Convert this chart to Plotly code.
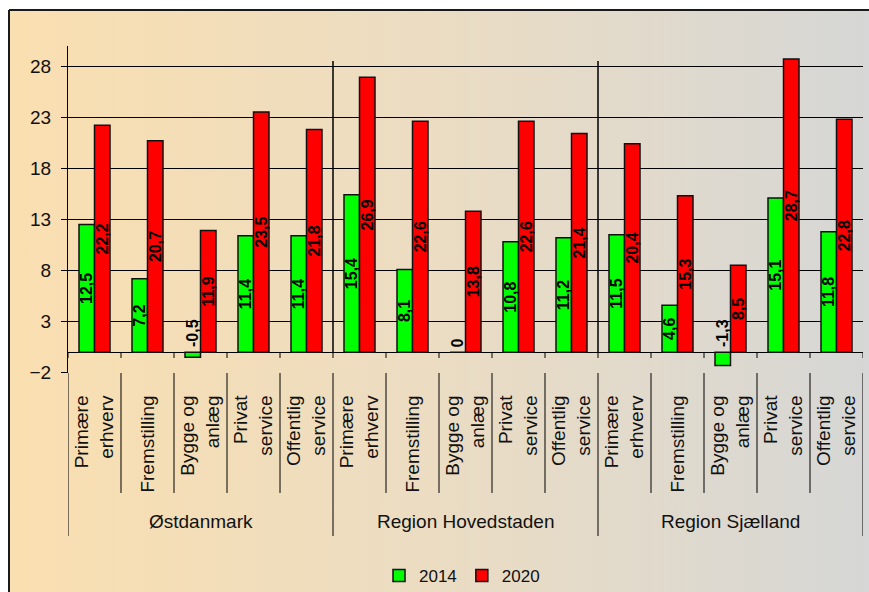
"""Growth by sector and region, 2014 vs 2020."""

import base64

import plotly.graph_objects as go

FONT = "Liberation Sans, Arial, sans-serif"
W, H = 869, 592

regions = ["Østdanmark", "Region Hovedstaden", "Region Sjælland"]
sectors = ["Primære<br>erhverv", "Fremstilling", "Bygge og<br>anlæg", "Privat<br>service", "Offentlig<br>service"]

vals_2014 = [12.5, 7.2, -0.5, 11.4, 11.4,
             15.4, 8.1, 0.0, 10.8, 11.2,
             11.5, 4.6, -1.3, 15.1, 11.8]
vals_2020 = [22.2, 20.7, 11.9, 23.5, 21.8,
             26.9, 22.6, 13.8, 22.6, 21.4,
             20.4, 15.3, 8.5, 28.7, 22.8]

y_ticks = [-2, 3, 8, 13, 18, 23, 28]

GREEN = "#00FF00"
RED = "#FF0000"
BARGAP = 0.415


def px_x(v):
    return v / W


def px_y(v):
    return 1 - v / H


def fmt(v):
    return f"{v:g}".replace(".", ",")


n = len(regions) * len(sectors)
xs = list(range(n))
ticktext = sectors * len(regions)
label_font = dict(family=FONT, size=16, color="black", weight="bold")

fig = go.Figure()

for name, vals, color in [("2014", vals_2014, GREEN), ("2020", vals_2020, RED)]:
    fig.add_trace(
        go.Bar(
            x=xs,
            y=vals,
            name=name,
            marker=dict(color=color, line=dict(color="#111111", width=1.5)),
            text=[fmt(v) if v >= 1 else "" for v in vals],
            textposition="inside",
            insidetextanchor="middle",
            textangle=-90,
            constraintext="none",
            textfont=label_font,
            cliponaxis=False,
        )
    )

# labels of the tiny 2014 bars sit above the zero line
offset = (1 - BARGAP) / 4
for i, v in enumerate(vals_2014):
    if v < 1:
        fig.add_annotation(
            x=i - offset, y=0, xref="x", yref="y", text=fmt(v), textangle=-90,
            showarrow=False, yanchor="bottom", yshift=3, font=label_font,
        )

# background gradient + frame (only left and top edges are inside the picture)
svg = (
    '<svg xmlns="http://www.w3.org/2000/svg" width="100" height="100" preserveAspectRatio="none">'
    '<defs><linearGradient id="g" x1="0" y1="0" x2="1" y2="0">'
    '<stop offset="0" stop-color="#FADFB0"/><stop offset="0.5" stop-color="#EADCC4"/>'
    '<stop offset="1" stop-color="#D3D6D8"/></linearGradient></defs>'
    '<rect width="100" height="100" fill="url(#g)"/></svg>'
)
fig.add_layout_image(
    source="data:image/svg+xml;base64," + base64.b64encode(svg.encode()).decode(),
    xref="paper", yref="paper", x=px_x(9), y=px_y(10), sizex=1.05, sizey=1.05,
    xanchor="left", yanchor="top", sizing="stretch", layer="below",
)
frame = dict(color="#1a1a1a", width=2)
fig.add_shape(type="line", xref="paper", yref="paper", x0=px_x(9), x1=px_x(9), y0=0, y1=px_y(10),
              line=frame, layer="below")
fig.add_shape(type="line", xref="paper", yref="paper", x0=px_x(9), x1=1, y0=px_y(10), y1=px_y(10),
              line=frame, layer="below")

# zero line ticks, region dividers, label separators
line = dict(color="black", width=1)
for b in range(n + 1):
    xb = b - 0.5
    fig.add_shape(type="line", xref="x", yref="paper", x0=xb, x1=xb, y0=px_y(352), y1=px_y(358), line=line)
    group_edge = b % len(sectors) == 0
    fig.add_shape(type="line", xref="x", yref="paper", x0=xb, x1=xb,
                  y0=px_y(373), y1=px_y(536 if group_edge else 493), line=line)
    if group_edge and 0 < b < n:
        fig.add_shape(type="line", xref="x", yref="y", x0=xb, x1=xb, y0=0, y1=28.5,
                      line=dict(color="black", width=1.5))

for g, region in enumerate(regions):
    fig.add_annotation(
        x=g * len(sectors) + (len(sectors) - 1) / 2, y=px_y(521), xref="x", yref="paper",
        yanchor="middle", text=region, showarrow=False,
        font=dict(family=FONT, size=19, color="#111111"),
    )

fig.update_layout(
    width=W,
    height=H,
    margin=dict(l=0, r=0, t=0, b=0, autoexpand=False),
    paper_bgcolor="white",
    plot_bgcolor="rgba(0,0,0,0)",
    barmode="group",
    bargap=BARGAP,
    bargroupgap=0,
    showlegend=True,
    legend=dict(orientation="h", x=px_x(462), xanchor="center", y=px_y(576), yanchor="middle",
                font=dict(family=FONT, size=17, color="#111111"), bgcolor="rgba(0,0,0,0)",
                itemwidth=30, traceorder="normal"),
    font=dict(family=FONT, color="#111111"),
    xaxis=dict(
        domain=[px_x(68), px_x(863)],
        range=[-0.5, n - 0.5],
        tickvals=xs,
        ticktext=ticktext,
        tickangle=-90,
        ticks="",
        ticklabelstandoff=18,
        showgrid=False,
        showline=False,
        zeroline=False,
        automargin=False,
        tickfont=dict(family=FONT, size=19, color="#111111"),
        fixedrange=True,
    ),
    yaxis=dict(
        domain=[px_y(372.7), px_y(45.6)],
        range=[-2, 30],
        tickvals=y_ticks,
        ticks="outside",
        ticklen=6,
        tickcolor="black",
        ticklabelstandoff=6,
        showgrid=True,
        gridcolor="black",
        gridwidth=1,
        showline=True,
        linecolor="black",
        linewidth=1,
        zeroline=True,
        zerolinecolor="black",
        zerolinewidth=1,
        automargin=False,
        tickfont=dict(family=FONT, size=19, color="#111111"),
        fixedrange=True,
    ),
)

fig.write_html(
    "out.html",
    config={"displayModeBar": False},
    post_script="document.body.style.margin='0';document.body.style.overflow='hidden';",
)
